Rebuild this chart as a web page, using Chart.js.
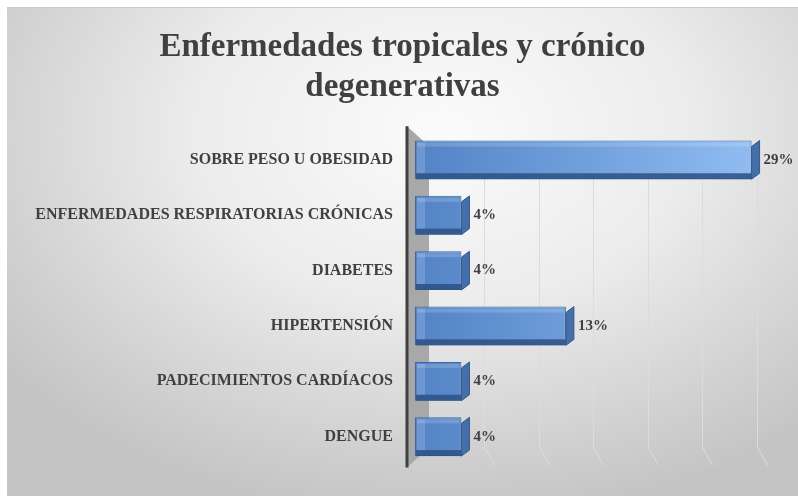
<!DOCTYPE html>
<html lang="es">
<head>
    <meta charset="UTF-8">
    <title>Enfermedades tropicales y crónico degenerativas</title>
    <style>
        body {
            margin: 0;
            padding: 0;
            background-color: #ffffff;
        }
        .chart-box {
            position: absolute;
            left: 7px;
            top: 7px;
            width: 791px;
            height: 489px;
            border-top: 1px solid #c9c9c9;
            box-sizing: border-box;
            background: radial-gradient(ellipse 70% 80% at 55% 25%, #fbfbfb 0%, #ececec 45%, #d2d2d2 80%, #c4c4c4 100%);
        }
        canvas {
            position: absolute;
            left: 0;
            top: -1px;
        }
    </style>
</head>
<body>
    <div class="chart-box">
        <canvas id="enfermedadesChart" width="791" height="489"></canvas>
    </div>

    <script src="https://cdn.jsdelivr.net/npm/chart.js"></script>
    <script>
        // Datos del gráfico
        const categorias = ['SOBRE PESO U OBESIDAD', 'ENFERMEDADES RESPIRATORIAS CRÓNICAS', 'DIABETES', 'HIPERTENSIÓN', 'PADECIMIENTOS CARDÍACOS', 'DENGUE'];
        const porcentajes = [29, 4, 4, 13, 4, 4];
        const lineasGuia = [5, 10, 15, 20, 25, 30];
        const titulo = ['Enfermedades tropicales y crónico', 'degenerativas'];

        const fuente = "'Liberation Serif', 'Times New Roman', serif";
        const gris = '#404040';

        // Pared lateral, eje y líneas de fondo en perspectiva
        const paredPlugin = {
            id: 'pared',
            beforeDatasetsDraw(chart) {
                const ctx = chart.ctx;
                const a = chart.chartArea;
                const L = a.left, T = a.top, B = a.bottom;
                const xs = chart.scales.x;
                ctx.save();
                // lineas de la cuadricula (pared del fondo)
                ctx.strokeStyle = '#dcdcdc';
                ctx.lineWidth = 1;
                lineasGuia.forEach(v => {
                    const px = xs.getPixelForValue(v);
                    const bx = Math.round(L + 15 + (px - L) * 0.938) + 0.5;
                    ctx.beginPath();
                    ctx.moveTo(bx, T + 14);
                    ctx.lineTo(bx, B - 17);
                    ctx.lineTo(bx + 10, B + 1);
                    ctx.stroke();
                });
                // pared izquierda
                ctx.fillStyle = '#a8a8a8';
                ctx.beginPath();
                ctx.moveTo(L - 8, T - 6);
                ctx.lineTo(L + 14, T + 14);
                ctx.lineTo(L + 14, B - 17);
                ctx.lineTo(L - 8, B + 3);
                ctx.closePath();
                ctx.fill();
                // eje
                ctx.strokeStyle = gris;
                ctx.lineWidth = 3;
                ctx.beginPath();
                ctx.moveTo(L - 8, T - 6);
                ctx.lineTo(L - 8, B + 3);
                ctx.stroke();
                ctx.restore();
            },
            afterDatasetsDraw(chart) {
                const ctx = chart.ctx;
                const meta = chart.getDatasetMeta(0);
                ctx.save();
                meta.data.forEach((el, i) => {
                    const x0 = el.base, x1 = el.x, h = el.height;
                    const top = el.y - h / 2, bot = el.y + h / 2;
                    // franja inferior
                    ctx.fillStyle = 'rgba(45, 80, 130, 0.85)';
                    ctx.fillRect(x0 + 1, bot - 6, x1 - x0 - 1, 6);
                    // brillo superior
                    ctx.fillStyle = 'rgba(255, 255, 255, 0.16)';
                    ctx.fillRect(x0 + 2, top + 2, x1 - x0 - 4, 4);
                    ctx.fillRect(x0 + 2, top + 2, 8, h - 8);
                    // cara derecha
                    ctx.fillStyle = '#456fa8';
                    ctx.strokeStyle = '#33588c';
                    ctx.lineWidth = 1;
                    ctx.beginPath();
                    ctx.moveTo(x1, top + 6);
                    ctx.lineTo(x1 + 8, top);
                    ctx.lineTo(x1 + 8, bot - 6);
                    ctx.lineTo(x1, bot);
                    ctx.closePath();
                    ctx.fill();
                    ctx.stroke();
                    // etiqueta de valor
                    ctx.fillStyle = gris;
                    ctx.font = 'bold 15px ' + fuente;
                    ctx.textAlign = 'left';
                    ctx.textBaseline = 'middle';
                    ctx.fillText(porcentajes[i] + '%', x1 + 12, el.y);
                });
                ctx.restore();
            }
        };

        const enfermedadesChart = new Chart(document.getElementById('enfermedadesChart'), {
            type: 'bar',
            data: {
                labels: categorias,
                datasets: [{
                    data: porcentajes,
                    backgroundColor: (c) => {
                        const a = c.chart.chartArea;
                        if (!a) return '#5b8cd0';
                        const g = c.chart.ctx.createLinearGradient(a.left, 0, a.left + 350, 0);
                        g.addColorStop(0, '#5383c6');
                        g.addColorStop(1, '#92bef3');
                        return g;
                    },
                    borderColor: '#3c6aa6',
                    borderWidth: 1,
                    borderSkipped: false,
                    barPercentage: 0.7,
                    categoryPercentage: 1
                }]
            },
            options: {
                indexAxis: 'y',
                responsive: false,
                animation: false,
                layout: {
                    padding: { left: 0, right: 0, top: 0, bottom: 22 }
                },
                plugins: {
                    legend: { display: false },
                    tooltip: { enabled: false },
                    title: {
                        display: true,
                        text: titulo,
                        color: gris,
                        font: { family: fuente, size: 33, weight: 'bold', lineHeight: 1.2 },
                        padding: { top: 21, bottom: 25 }
                    }
                },
                scales: {
                    x: {
                        min: 0,
                        max: 33,
                        ticks: { display: false },
                        grid: { display: false },
                        border: { display: false }
                    },
                    y: {
                        afterFit: (scale) => { scale.width = 408; },
                        ticks: {
                            color: gris,
                            padding: 22,
                            font: { family: fuente, size: 16, weight: 'bold' }
                        },
                        grid: { display: false, drawTicks: false },
                        border: { display: false }
                    }
                }
            },
            plugins: [paredPlugin]
        });
    </script>
</body>
</html>
